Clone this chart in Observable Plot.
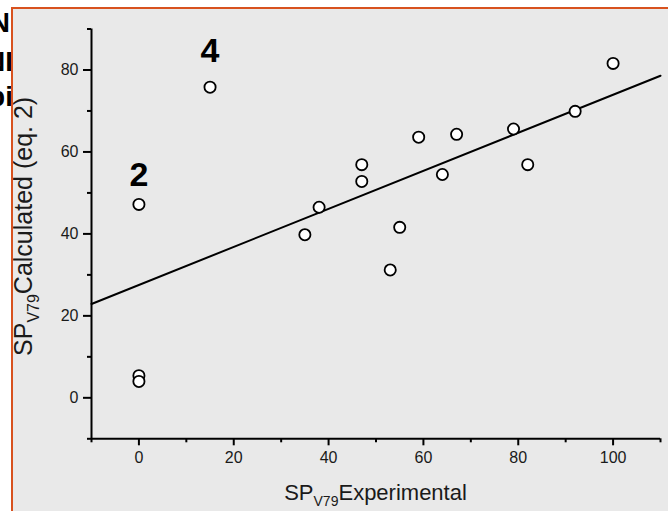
<!DOCTYPE html>
<html><head><meta charset="utf-8">
<script src="https://cdn.jsdelivr.net/npm/d3@7"></script>
<script src="https://cdn.jsdelivr.net/npm/@observablehq/plot@0.6"></script>
<style>
html,body{margin:0;padding:0;background:#fff;width:668px;height:511px;overflow:hidden;font-family:"Liberation Sans",Arial,sans-serif;}
.side{position:absolute;font:bold 28px/28px "Liberation Sans",Arial,sans-serif;color:#000;white-space:nowrap;text-align:right;z-index:1}
#panel{position:absolute;left:11px;top:7px;width:655px;height:502px;border-left:2px solid #d8521f;border-top:2px solid #d8521f;background:#e9e9e9;overflow:hidden;z-index:2}
#panel svg{display:block}
</style></head><body>
<div id="panel"></div>
<script>
// ---- data ----
const expX  = [0, 0, 0, 15, 35, 38, 47, 47, 53, 55, 59, 64, 67, 79, 82, 92, 100];
const calcY = [47.2, 5.4, 4.0, 75.8, 39.8, 46.5, 56.9, 52.8, 31.2, 41.6, 63.6, 54.5, 64.3, 65.6, 56.9, 69.9, 81.6];
const fitX = [-10, 110];
const fitY = [22.9, 78.6];
const labelText = ["2", "4"];
const labelX = [0, 15];
const labelY = [51.8, 81.9];
const xMajor = [0, 20, 40, 60, 80, 100];
const xMinor = [-10, 10, 30, 50, 70, 90, 110];
const yMajor = [0, 20, 40, 60, 80];
const yMinor = [-10, 10, 30, 50, 70, 90];
const xTitle = ["SP", "V79", "Experimental"];
const yTitle = ["SP", "V79", "Calculated (eq. 2)"];
const sideText = ["N", "NI", "pi"];
const sideRight = [10, 13, 13];
const sideTop = [9, 48, 83];

// partially hidden text to the left of the panel
sideText.forEach((t, i) => {
  const d = document.createElement("div");
  d.className = "side";
  d.textContent = t;
  d.style.right = (668 - sideRight[i]) + "px";
  d.style.top = sideTop[i] + "px";
  document.body.appendChild(d);
});

const points = expX.map((x, i) => ({x, y: calcY[i]}));
const fit = fitX.map((x, i) => ({x, y: fitY[i]}));
const labels = labelText.map((t, i) => ({t, x: labelX[i], y: labelY[i]}));

const W = 655, H = 502;
const plot = Plot.plot({
  width: W, height: H,
  marginLeft: 78, marginRight: 8, marginTop: 19.5, marginBottom: 72.7,
  style: {background: "transparent", fontFamily: "'Liberation Sans', Arial, sans-serif", color: "#000", overflow: "visible"},
  x: {domain: [-10, 110]},
  y: {domain: [-10, 90]},
  marks: [
    Plot.axisX({ticks: xMajor, tickSize: 7, tickPadding: 6, fontSize: 16, label: null, strokeWidth: 2, fill: "#1a1a1a"}),
    Plot.axisX({ticks: xMinor, tickSize: 4, tickFormat: () => "", label: null, strokeWidth: 2}),
    Plot.axisY({ticks: yMajor, tickSize: 8, tickPadding: 5, fontSize: 16, label: null, strokeWidth: 2, fill: "#1a1a1a"}),
    Plot.axisY({ticks: yMinor, tickSize: 4, tickFormat: () => "", label: null, strokeWidth: 2}),
    Plot.ruleX([-10], {strokeWidth: 2}),
    Plot.ruleY([-10], {strokeWidth: 2}),
    Plot.line(fit, {x: "x", y: "y", stroke: "#000", strokeWidth: 2}),
    Plot.dot(points, {x: "x", y: "y", r: 5.6, fill: "#fff", stroke: "#000", strokeWidth: 1.8}),
    Plot.text(labels, {x: "x", y: "y", text: "t", fontSize: 34, fontWeight: "bold", lineAnchor: "bottom", fill: "#000"})
  ]
});
document.getElementById("panel").appendChild(plot);

// axis titles with subscripts, positioned from the scales
const sx = plot.scale("x"), sy = plot.scale("y");
const svg = d3.select(plot);
const cx = (sx.range[0] + sx.range[1]) / 2;
const cy = (sy.range[0] + sy.range[1]) / 2;

function title(g, parts, size, sub, shift) {
  const t = g.append("text").attr("text-anchor", "middle")
    .attr("font-family", "'Liberation Sans', Arial, sans-serif").attr("font-size", size).attr("fill", "#1a1a1a");
  t.append("tspan").text(parts[0]);
  t.append("tspan").attr("font-size", sub).attr("dy", shift).text(parts[1]);
  t.append("tspan").attr("dy", -shift).text(parts[2]);
  return t;
}
title(svg.append("g").attr("transform", `translate(${cx},${sy.range[0] + 62})`), xTitle, 22, 14, 6);
title(svg.append("g").attr("transform", `translate(${sx.range[0] - 59},${cy - 7}) rotate(-90)`), yTitle, 25, 16, 7);
</script>
</body></html>
